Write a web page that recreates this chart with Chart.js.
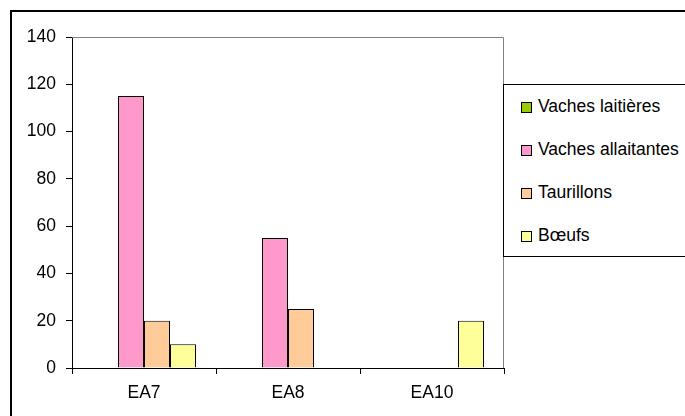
<!DOCTYPE html>
<html>
<head>
<meta charset="utf-8">
<script src="https://cdn.jsdelivr.net/npm/chart.js@4"></script>
<style>
  html, body { margin: 0; padding: 0; background: #fff; overflow: hidden; }
  #wrap { position: relative; width: 685px; height: 416px; }
  #frame { position: absolute; left: 10px; top: 10px; width: 700px; height: 430px; border: 2px solid #000; }
  #chart { position: absolute; left: 0; top: 0; }
  #legend {
    position: absolute; left: 503px; top: 84px; width: 200px; height: 171px;
    border: 1px solid #000; background: #fff;
    font-family: "Liberation Sans", Arial, sans-serif; font-size: 17.5px; color: #000;
  }
  #legend .item { position: absolute; left: 17px; height: 20px; line-height: 20px; white-space: nowrap; }
  #legend .sw { display: inline-block; width: 9px; height: 9px; border: 1px solid #000; margin-right: 6px; vertical-align: -1px; }
</style>
</head>
<body>
<div id="wrap">
  <div id="frame"></div>
  <canvas id="chart" width="685" height="416"></canvas>
  <div id="legend"></div>
</div>
<script>
(function () {
  'use strict';

  // données
  const categories = ['EA7', 'EA8', 'EA10'];
  const vachesLaitieres   = [null, null, null];
  const vachesAllaitantes = [115, 55, null];
  const taurillons        = [20, 25, null];
  const boeufs            = [10, null, 20];
  const yTicks = [0, 20, 40, 60, 80, 100, 120, 140];

  const FONT = { family: '"Liberation Sans", Arial, sans-serif', size: 17.5 };

  const series = [
    { label: 'Vaches laitières',   data: vachesLaitieres,   color: '#99CC00' },
    { label: 'Vaches allaitantes', data: vachesAllaitantes, color: '#FF99CC' },
    { label: 'Taurillons',         data: taurillons,        color: '#FFCC99' },
    { label: 'Bœufs',              data: boeufs,            color: '#FFFF99' },
  ];

  // bord gris en haut et à droite de la zone de tracé
  const plotFrame = {
    id: 'plotFrame',
    beforeDatasetsDraw(chart) {
      const { ctx, chartArea: a } = chart;
      ctx.save();
      ctx.strokeStyle = '#808080';
      ctx.lineWidth = 1;
      ctx.beginPath();
      ctx.moveTo(a.left, a.top + 0.5);
      ctx.lineTo(a.right - 0.5, a.top + 0.5);
      ctx.lineTo(a.right - 0.5, a.bottom);
      ctx.stroke();
      ctx.restore();
    }
  };

  const chart = new Chart(document.getElementById('chart'), {
    type: 'bar',
    data: {
      labels: categories,
      datasets: series.map(s => ({
        label: s.label, data: s.data,
        backgroundColor: s.color, borderColor: '#000', borderWidth: 1,
        categoryPercentage: 0.722, barPercentage: 1,
      })),
    },
    options: {
      responsive: false, animation: false,
      layout: { padding: { top: 37, right: 181, left: 0, bottom: 0 } },
      plugins: { legend: { display: false }, tooltip: { enabled: false } },
      scales: {
        x: {
          grid: { display: true, drawOnChartArea: false, tickLength: 6, color: '#000', offset: true },
          border: { display: true, color: '#000', width: 1 },
          ticks: { color: '#000', font: FONT, padding: 9, maxRotation: 0 },
          afterFit(s) { s.height = 48; },
        },
        y: {
          min: 0, max: 140,
          grid: { display: true, drawOnChartArea: false, tickLength: 6, color: '#000' },
          border: { display: true, color: '#000', width: 1 },
          afterBuildTicks(s) { s.ticks = yTicks.map(v => ({ value: v })); },
          ticks: { color: '#000', font: FONT, padding: 10 },
          afterFit(s) { s.width = 72; },
        },
      },
    },
    plugins: [plotFrame],
  });

  // légende HTML encadrée, construite depuis les datasets
  const legend = document.getElementById('legend');
  const rowTop = [11, 54, 97, 140];
  chart.data.datasets.forEach((ds, i) => {
    const row = document.createElement('div');
    row.className = 'item';
    row.style.top = rowTop[i] + 'px';
    const sw = document.createElement('span');
    sw.className = 'sw';
    sw.style.background = ds.backgroundColor;
    row.appendChild(sw);
    row.appendChild(document.createTextNode(ds.label));
    legend.appendChild(row);
  });
})();
</script>
</body>
</html>
